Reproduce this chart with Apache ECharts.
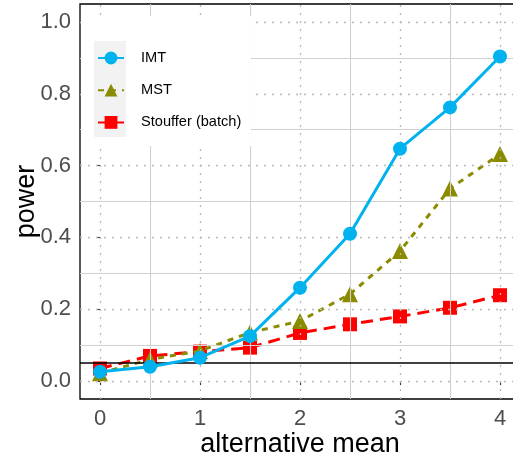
<!DOCTYPE html>
<html><head><meta charset="utf-8">
<script src="https://cdn.jsdelivr.net/npm/echarts@6/dist/echarts.min.js"></script>
<style>html,body{margin:0;padding:0;background:#fff}#c{width:513px;height:462px}</style>
</head><body><div id="c"></div>
<script>
const xValues = [0, 0.5, 1, 1.5, 2, 2.5, 3, 3.5, 4];
const imt = [0.026, 0.040, 0.065, 0.125, 0.260, 0.410, 0.647, 0.762, 0.904];
const mst = [0.022, 0.060, 0.084, 0.135, 0.167, 0.242, 0.362, 0.536, 0.632];
const stouffer = [0.035, 0.070, 0.082, 0.093, 0.134, 0.158, 0.180, 0.204, 0.239];
const seriesNames = ['IMT', 'MST', 'Stouffer (batch)'];
const xTicks = [0, 1, 2, 3, 4];
const xMinor = [0.5, 1.5, 2.5, 3.5];
const yTicks = [0, 0.2, 0.4, 0.6, 0.8, 1.0];
const yMinor = [0.1, 0.3, 0.5, 0.7, 0.9];
const refLine = 0.05;

const pairs = arr => xValues.map((x, i) => [x, arr[i]]);
const font = '"Liberation Sans", Arial, Helvetica, sans-serif';
const chart = echarts.init(document.getElementById('c'));

const gridLines = [];
xMinor.forEach(v => gridLines.push({xAxis: v, lineStyle: {type: 'solid', color: '#d0d0d0', width: 1.1}}));
yMinor.forEach(v => gridLines.push({yAxis: v, lineStyle: {type: 'solid', color: '#d0d0d0', width: 1.1}}));
xTicks.forEach(v => gridLines.push({xAxis: v, lineStyle: {type: [2, 6], color: '#b8b8b8', width: 1.3}}));
yTicks.forEach(v => gridLines.push({yAxis: v, lineStyle: {type: [2, 6], color: '#b8b8b8', width: 1.3}}));

chart.setOption({
  animation: false,
  backgroundColor: '#fff',
  grid: {left: 80, top: 4, width: 440, bottom: 63, show: true, borderColor: '#000', borderWidth: 1.3,
    backgroundColor: 'transparent', containLabel: false, outerBoundsMode: 'none'},
  xAxis: {
    type: 'value', min: -0.2, max: 4.2,
    name: 'alternative mean', nameLocation: 'middle', nameGap: 32, nameMoveOverlap: false,
    nameTextStyle: {fontFamily: font, fontSize: 27, color: '#000'},
    axisLine: {show: false},
    axisTick: {show: true, customValues: xTicks, length: 4, lineStyle: {color: '#333', width: 1.1}},
    axisLabel: {customValues: xTicks, fontFamily: font, fontSize: 22, color: '#4d4d4d', margin: 9},
    splitLine: {show: false}
  },
  yAxis: {
    type: 'value', min: -0.05, max: 1.05,
    name: 'power', nameLocation: 'middle', nameGap: 40, nameMoveOverlap: false,
    nameTextStyle: {fontFamily: font, fontSize: 27, color: '#000'},
    axisLine: {show: false},
    axisTick: {show: true, customValues: yTicks, length: 4, lineStyle: {color: '#333', width: 1.1}},
    axisLabel: {customValues: yTicks, fontFamily: font, fontSize: 22, color: '#4d4d4d', margin: 9,
      formatter: v => v.toFixed(1)},
    splitLine: {show: false}
  },
  legend: {
    orient: 'vertical', left: 97, top: 50.5, padding: 0, itemWidth: 26, itemHeight: 16, itemGap: 17.2, z: 20,
    textStyle: {fontFamily: font, fontSize: 14.6, color: '#000', padding: [0, 0, 0, 12]},
    data: seriesNames
  },
  graphic: [
    {type: 'rect', left: 81, top: 16, shape: {width: 170, height: 130}, style: {fill: '#ffffff'}, z: 10},
    {type: 'rect', left: 94, top: 41, shape: {width: 32, height: 96}, style: {fill: '#f2f2f2'}, z: 11}
  ],
  series: [
    {type: 'line', name: '_grid', data: [], silent: true, z: 1,
      markLine: {silent: true, symbol: 'none', label: {show: false}, data: gridLines, animation: false}},
    {type: 'line', name: '_ref', data: [], silent: true, z: 2,
      markLine: {silent: true, symbol: 'none', label: {show: false}, animation: false,
        data: [{yAxis: refLine, lineStyle: {type: 'solid', color: '#000', width: 1.5}}]}},
    {type: 'line', name: seriesNames[2], data: pairs(stouffer), z: 3,
      itemStyle: {color: '#ff0000'}, lineStyle: {color: '#ff0000', width: 3, type: [12, 7]},
      symbol: 'rect', symbolSize: 14},
    {type: 'line', name: seriesNames[1], data: pairs(mst), z: 4,
      itemStyle: {color: '#8b8b00'}, lineStyle: {color: '#8b8b00', width: 3, type: [6, 6]},
      symbol: 'triangle', symbolSize: 16},
    {type: 'line', name: seriesNames[0], data: pairs(imt), z: 5,
      itemStyle: {color: '#00b2ee'}, lineStyle: {color: '#00b2ee', width: 3},
      symbol: 'circle', symbolSize: 14}
  ]
});
</script></body></html>
